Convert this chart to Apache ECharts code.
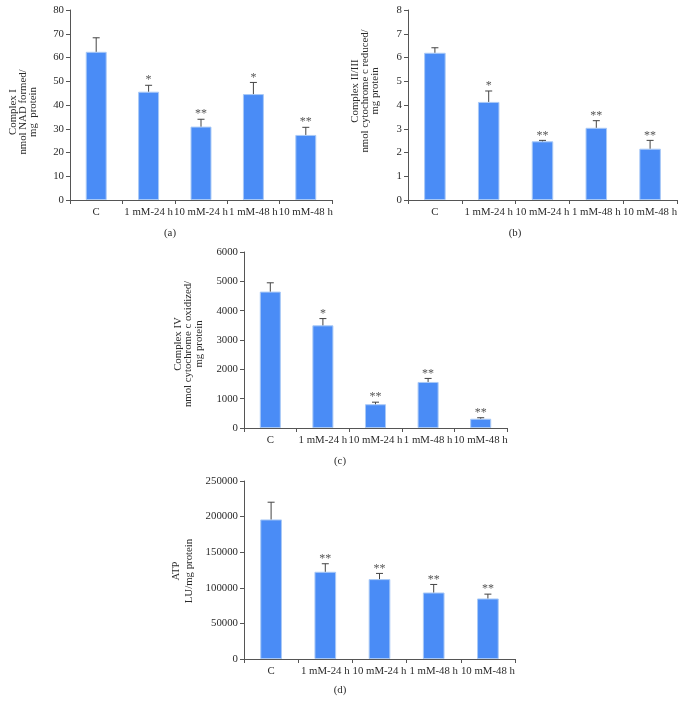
<!DOCTYPE html>
<html>
<head>
<meta charset="utf-8">
<script src="https://cdn.jsdelivr.net/npm/echarts@6/dist/echarts.min.js"></script>
<style>
html,body{margin:0;padding:0;background:#fff;}
#chart{width:685px;height:713px;}
</style>
</head>
<body>
<div id="chart"></div>
<script>
// ---- Data ----
var categories = ['C', '1 mM-24 h', '10 mM-24 h', '1 mM-48 h', '10 mM-48 h'];

var complexI = [62.4, 45.6, 30.9, 44.6, 27.4];
var complexISD = [5.9, 2.7, 3.1, 4.9, 3.2];
var complexIStars = ['', '*', '**', '*', '**'];

var complexII = [6.2, 4.13, 2.47, 3.04, 2.16];
var complexIISD = [0.21, 0.46, 0.04, 0.30, 0.35];
var complexIIStars = ['', '*', '**', '**', '**'];

var complexIV = [4650, 3500, 810, 1570, 316];
var complexIVSD = [300, 230, 70, 120, 34];
var complexIVStars = ['', '*', '**', '**', '**'];

var atp = [196000, 122500, 112200, 93400, 85000];
var atpSD = [24200, 11300, 8000, 11300, 6100];
var atpStars = ['', '**', '**', '**', '**'];

var yMax = [80, 8, 6000, 250000];
var yInterval = [10, 1, 1000, 50000];

var axisNames = [
  'Complex I\nnmol NAD formed/\nmg  protein',
  'Complex II/III\nnmol cytochrome c reduced/\nmg protein',
  'Complex IV\nnmol cytochrome c oxidized/\nmg protein',
  'ATP\nLU/mg protein'
];
var panelLabels = ['(a)', '(b)', '(c)', '(d)'];

// ---- Layout / style ----
var FONT = '"Liberation Serif", "DejaVu Serif", serif';
var BAR = '#4a8cf6';
var AXIS = '#555';
var TEXT = '#2a2a2a';

var grids = [
  {left: 70, top: 10, width: 262, height: 190},
  {left: 408, top: 10, width: 269, height: 190},
  {left: 244, top: 252, width: 263, height: 176},
  {left: 244, top: 481, width: 271, height: 178}
];

var values = [complexI, complexII, complexIV, atp];
var sds = [complexISD, complexIISD, complexIVSD, atpSD];
var stars = [complexIStars, complexIIStars, complexIVStars, atpStars];

var xAxes = [], yAxes = [], series = [];
for (var i = 0; i < 4; i++) {
  xAxes.push({
    type: 'category', gridIndex: i, data: categories, boundaryGap: true,
    axisLine: {lineStyle: {color: AXIS, width: 1}},
    axisTick: {show: true, length: 4, lineStyle: {color: AXIS}},
    axisLabel: {interval: 0, margin: 7, fontFamily: FONT, fontSize: 10.8, color: TEXT}
  });
  yAxes.push({
    type: 'value', gridIndex: i, min: 0, max: yMax[i], interval: yInterval[i],
    axisLine: {show: true, lineStyle: {color: AXIS, width: 1}},
    axisTick: {show: true, length: 4, lineStyle: {color: AXIS}},
    splitLine: {show: false},
    axisLabel: {margin: 6, fontFamily: FONT, fontSize: 10.8, color: TEXT,
      formatter: function (v) { return String(v); }}
  });
  series.push({
    type: 'bar', xAxisIndex: i, yAxisIndex: i, barWidth: '40%',
    data: values[i],
    itemStyle: {color: BAR, borderColor: '#a9c9f6', borderWidth: 1},
    silent: true
  });
  (function (idx) {
    var errData = values[idx].map(function (v, k) { return [k, v, v + sds[idx][k]]; });
    series.push({
      type: 'custom', xAxisIndex: idx, yAxisIndex: idx,
      data: errData,
      encode: {x: 0, y: [1, 2]},
      renderItem: function (params, api) {
        var x = api.value(0), v = api.value(1), e = api.value(2);
        var p0 = api.coord([x, v]);
        var p1 = api.coord([x, e]);
        var s = stars[idx][params.dataIndex];
        return {
          type: 'group',
          children: [
            {type: 'line', shape: {x1: p0[0], y1: p0[1], x2: p1[0], y2: p1[1]}, style: {stroke: '#444', lineWidth: 1}},
            {type: 'line', shape: {x1: p1[0] - 3.5, y1: p1[1], x2: p1[0] + 3.5, y2: p1[1]}, style: {stroke: '#444', lineWidth: 1}},
            {type: 'text', style: {text: s, x: p1[0], y: p1[1] + 1, align: 'center', verticalAlign: 'bottom',
              fill: '#555', font: '12px ' + FONT}}
          ]
        };
      },
      silent: true, z: 5
    });
  })(i);
}

var namePos = [[23, 112], [365, 91], [188.5, 344], [182.5, 571]];
var nameLineH = [10, 10, 10.5, 13];
var labelPos = [[170, 233], [515, 233], [340, 461], [340, 690]];

var graphics = [];
for (var j = 0; j < 4; j++) {
  graphics.push({
    type: 'text', x: namePos[j][0], y: namePos[j][1], rotation: Math.PI / 2,
    style: {text: axisNames[j], align: 'center', verticalAlign: 'middle',
      font: '10.8px ' + FONT, fill: TEXT, lineHeight: nameLineH[j]}
  });
  graphics.push({
    type: 'text', x: labelPos[j][0], y: labelPos[j][1],
    style: {text: panelLabels[j], align: 'center', verticalAlign: 'middle',
      font: '10.8px ' + FONT, fill: TEXT}
  });
}

var chart = echarts.init(document.getElementById('chart'), null, {renderer: 'canvas'});
chart.setOption({
  animation: false,
  backgroundColor: '#fff',
  grid: grids,
  xAxis: xAxes,
  yAxis: yAxes,
  series: series,
  graphic: graphics
});
</script>
</body>
</html>
